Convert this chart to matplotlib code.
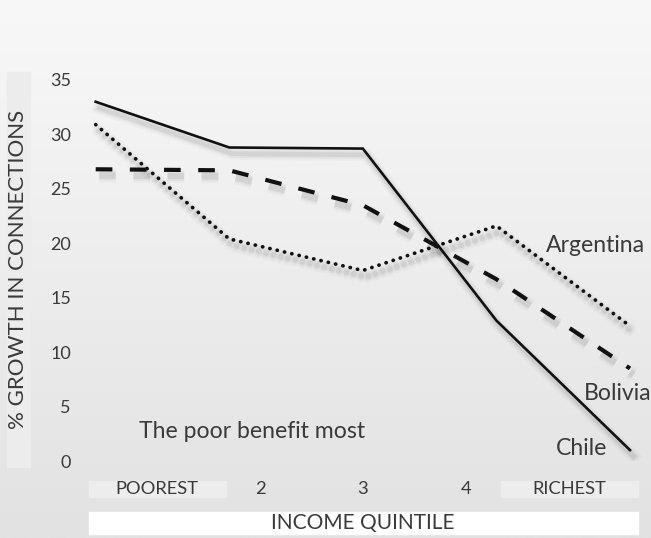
import numpy as np
import matplotlib
matplotlib.use("Agg")
import matplotlib.pyplot as plt
import matplotlib.patheffects as pe
from matplotlib.patches import Rectangle

# ---- data ----
quintiles = ["POOREST", "2", "3", "4", "RICHEST"]
chile = [33.0, 28.8, 28.7, 12.9, 1.0]
bolivia = [26.8, 26.7, 23.5, 16.7, 8.5]
argentina = [30.9, 20.4, 17.5, 21.6, 12.4]
yticks = [0, 5, 10, 15, 20, 25, 30, 35]

W, H = 651, 538
plt.rcParams['font.family'] = ['Lato', 'DejaVu Sans']
TXT = '#3a3a3a'

fig = plt.figure(figsize=(W / 100, H / 100), dpi=100)

def fr(x0, y0, x1, y1):
    """pixel box (top-left origin) -> figure fraction rect"""
    return [x0 / W, 1 - y1 / H, (x1 - x0) / W, (y1 - y0) / H]

# background gradient
bg = fig.add_axes([0, 0, 1, 1], zorder=-10)
grad = np.linspace(248, 226, 256)[:, None] / 255.0
bg.imshow(np.dstack([grad, grad, grad]), aspect='auto', extent=[0, 1, 0, 1])
bg.set_axis_off()

# decorative boxes
def box(x0, y0, x1, y1, color):
    fig.patches.append(Rectangle((x0 / W, 1 - y1 / H), (x1 - x0) / W, (y1 - y0) / H,
                                 transform=fig.transFigure, color=color, zorder=-5))

box(7, 72, 30, 467, '#ececec')          # y-label band
box(89, 481, 226, 497, '#ededed')       # POOREST band
box(501, 481, 638, 497, '#ededed')      # RICHEST band
box(89, 512, 638, 534, '#ffffff')       # INCOME QUINTILE band

# main axes
ax = fig.add_axes(fr(80, 80, 645, 461))
ax.set_facecolor('none')
ppu = (630 - 95.7) / 4.0
ax.set_xlim(-(95.7 - 80) / ppu, 4 + (645 - 630) / ppu)
ax.set_ylim(0, 35)
for s in ax.spines.values():
    s.set_visible(False)
ax.set_xticks([])
ax.set_yticks(yticks)
ax.set_yticklabels([str(v) for v in yticks])
ax.tick_params(axis='y', length=0, pad=6.5, labelsize=13, labelcolor=TXT)

x = np.arange(len(quintiles))

def shadow(lw):
    effs = []
    for w, a in [(lw + 7, 0.025), (lw + 4, 0.04), (lw + 1.5, 0.06)]:
        effs.append(pe.SimpleLineShadow(offset=(2.5, -4.5), shadow_color='black',
                                        alpha=a, rho=1.0, linewidth=w))
    effs.append(pe.Normal())
    return effs

ax.plot(x, chile, color='#111111', lw=1.9, solid_joinstyle='miter',
        path_effects=shadow(1.9), zorder=3)
ax.plot(x, bolivia, color='#111111', lw=3.0, dashes=(4, 4.2), dash_capstyle='butt',
        path_effects=shadow(3.0), zorder=3)
ax.plot(x, argentina, color='#111111', lw=2.7, dashes=(0.05, 1.95), dash_capstyle='round',
        path_effects=shadow(2.7), zorder=3)

def px2data(px, py):
    return ((px - 95.7) / ppu, (461 - py) / (381 / 35))

for label, (px, py) in [("Argentina", (596, 252)), ("Bolivia", (618, 400)),
                        ("Chile", (582, 455)), ("The poor benefit most", (252.5, 438.5))]:
    dx, dy = px2data(px, py)
    ax.text(dx, dy, label, ha='center', va='baseline', fontsize=16.6, color=TXT, zorder=4)

# y label
fig.text(18.5 / W, 1 - 269.5 / H, "% GROWTH IN CONNECTIONS", rotation=90,
         ha='center', va='center', fontsize=16, color=TXT)

# category label row
lab = fig.add_axes(fr(105.5, 481, 620.5, 497))
lab.set_xlim(-0.5, len(quintiles) - 0.5)
lab.set_ylim(0, 1)
lab.set_axis_off()
for i, q in enumerate(quintiles):
    lab.text(i, 0.5, q, ha='center', va='center', fontsize=13.2, color=TXT)

fig.text(363 / W, 1 - 523.5 / H, "INCOME QUINTILE", ha='center', va='center',
         fontsize=15, color=TXT)

fig.savefig("out.png", dpi=100)
